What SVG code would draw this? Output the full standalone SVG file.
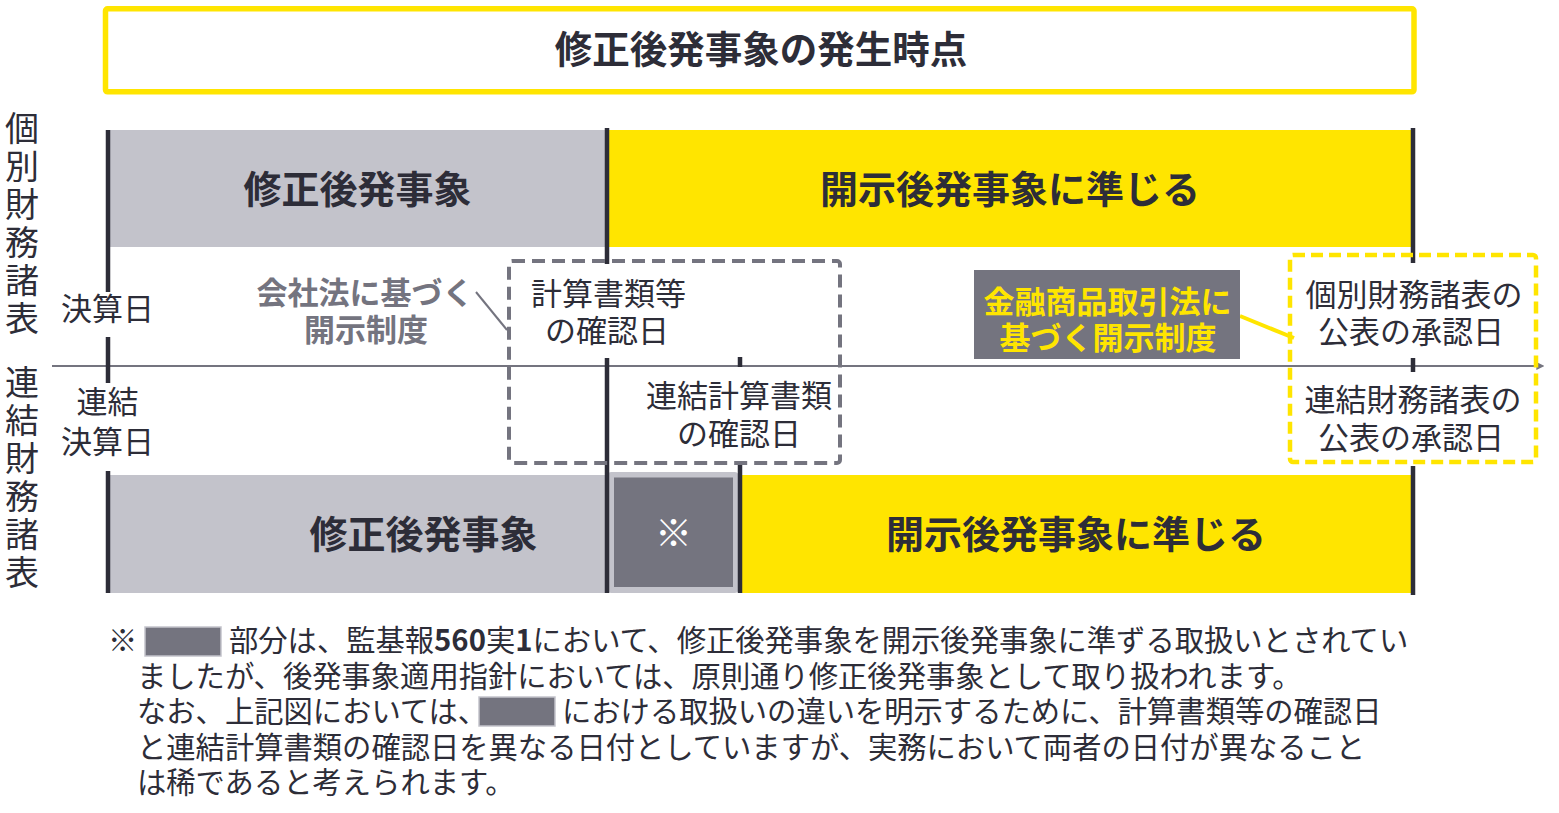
<svg xmlns="http://www.w3.org/2000/svg" width="1559" height="813" viewBox="0 0 1559 813">
<style>
text{font-family:"Noto Sans CJK JP","Noto Sans",sans-serif;fill:#2d2d38}
.b{font-weight:bold}
.t{font-size:37.5px}
.bar{font-size:38px;font-weight:bold;text-anchor:middle}
.lbl{font-size:31px}
.vl{font-size:34px;writing-mode:vertical-rl;letter-spacing:4px}
.fn{font-size:29.3px}
.gray{fill:#c3c3cb}
.yel{fill:#ffe500}
.dk{fill:#74747f}
.vline{stroke:#2d2d38;stroke-width:4.5;fill:none}
</style>
<defs>
<marker id="arr" viewBox="0 0 10 10" refX="2" refY="5" markerWidth="4" markerHeight="4" orient="auto" markerUnits="strokeWidth">
<path d="M0,0 L10,5 L0,10 z" fill="#74747f"/>
</marker>
</defs>

<g id="title">
<rect x="105.5" y="8.8" width="1308.5" height="83" rx="2" fill="#fff" stroke="#ffe500" stroke-width="5.5"/>
<text class="t b" x="761" y="63" text-anchor="middle">修正後発事象の発生時点</text>
</g>

<g id="side-labels">
<text class="vl" x="22" y="111">個別財務諸表</text>
<text class="vl" x="22" y="365">連結財務諸表</text>
</g>

<g id="bar-top-adjusting">
<rect class="gray" x="108" y="130" width="499" height="117"/>
<text class="bar" x="357.5" y="203">修正後発事象</text>
</g>
<g id="bar-top-nonadjusting">
<rect class="yel" x="607" y="130" width="804" height="117"/>
<text class="bar" x="1010" y="203">開示後発事象に準じる</text>
</g>
<g id="bar-bottom-adjusting">
<rect class="gray" x="108" y="475" width="499" height="118"/>
<text class="bar" x="423.5" y="548">修正後発事象</text>
</g>
<g id="bar-bottom-note">
<rect class="gray" x="607.5" y="472" width="131" height="121" rx="4"/>
<rect class="dk" x="614" y="477.5" width="119" height="109.5"/>
<text x="673.5" y="546.5" font-size="37" text-anchor="middle" style="fill:#fff">※</text>
</g>
<g id="bar-bottom-nonadjusting">
<rect class="yel" x="740" y="475" width="671" height="118"/>
<text class="bar" x="1076" y="548">開示後発事象に準じる</text>
</g>

<g id="connectors">
<line x1="52" y1="366" x2="1538" y2="366" stroke="#74747f" stroke-width="2" marker-end="url(#arr)"/>
<path class="vline" d="M108,130 V292 M108,337 V383 M108,471 V593"/>
<path class="vline" d="M607,128 V264 M607,358 V593"/>
<path class="vline" d="M740,357 V367 M740,462 V593"/>
<path class="vline" d="M1413,128 V263 M1413,358 V372 M1413,466 V595"/>
<line x1="476" y1="292" x2="507" y2="330" stroke="#74747f" stroke-width="2"/>
<line x1="1240" y1="316" x2="1294" y2="338" stroke="#ffe500" stroke-width="4"/>
</g>

<g id="date-kessan">
<text class="lbl" x="107.5" y="320" text-anchor="middle">決算日</text>
</g>
<g id="date-renketsu-kessan">
<text class="lbl" x="107.5" y="413" text-anchor="middle">連結</text>
<text class="lbl" x="107.5" y="453" text-anchor="middle">決算日</text>
</g>

<g id="kaishaho-label">
<text class="lbl b" x="365" y="304" text-anchor="middle" style="fill:#74747f">会社法に基づく</text>
<text class="lbl b" x="366" y="341" text-anchor="middle" style="fill:#74747f">開示制度</text>
</g>

<g id="keisan-box">
<rect x="509" y="261" width="331" height="202" rx="3" fill="none" stroke="#74747f" stroke-width="4" stroke-dasharray="13 7"/>
<text class="lbl" x="531" y="305">計算書類等</text>
<text class="lbl" x="545" y="342">の確認日</text>
<text class="lbl" x="646" y="407">連結計算書類</text>
<text class="lbl" x="677" y="445">の確認日</text>
</g>

<g id="kinsho-label">
<rect class="dk" x="974" y="270" width="266" height="89"/>
<text class="lbl b" x="1107.5" y="313" text-anchor="middle" style="fill:#ffe500">金融商品取引法に</text>
<text class="lbl b" x="1108" y="349" text-anchor="middle" style="fill:#ffe500">基づく開示制度</text>
</g>

<g id="kohyo-box">
<rect x="1290" y="255" width="246" height="207" rx="3" fill="none" stroke="#ffe500" stroke-width="4.5" stroke-dasharray="12 6"/>
<text class="lbl" x="1414" y="306" text-anchor="middle">個別財務諸表の</text>
<text class="lbl" x="1411" y="343" text-anchor="middle">公表の承認日</text>
<text class="lbl" x="1413" y="411" text-anchor="middle">連結財務諸表の</text>
<text class="lbl" x="1411" y="449" text-anchor="middle">公表の承認日</text>
</g>

<g id="footnote">
<text class="fn" x="108" y="651">※</text>
<rect class="dk" x="145" y="627" width="76" height="29" stroke="#c3c3cb" stroke-width="1.5"/>
<text class="fn" x="229" y="651">部分は、監基報<tspan class="b">560</tspan>実<tspan class="b">1</tspan>において、修正後発事象を開示後発事象に準ずる取扱いとされてい</text>
<text class="fn" x="137" y="687">ましたが、後発事象適用指針においては、原則通り修正後発事象として取り扱われます。</text>
<text class="fn" x="137" y="722">なお、上記図においては、</text>
<rect class="dk" x="479" y="697" width="76" height="29" stroke="#c3c3cb" stroke-width="1.5"/>
<text class="fn" x="562" y="722">における取扱いの違いを明示するために、計算書類等の確認日</text>
<text class="fn" x="137" y="758">と連結計算書類の確認日を異なる日付としていますが、実務において両者の日付が異なること</text>
<text class="fn" x="137" y="793">は稀であると考えられます。</text>
</g>
</svg>
